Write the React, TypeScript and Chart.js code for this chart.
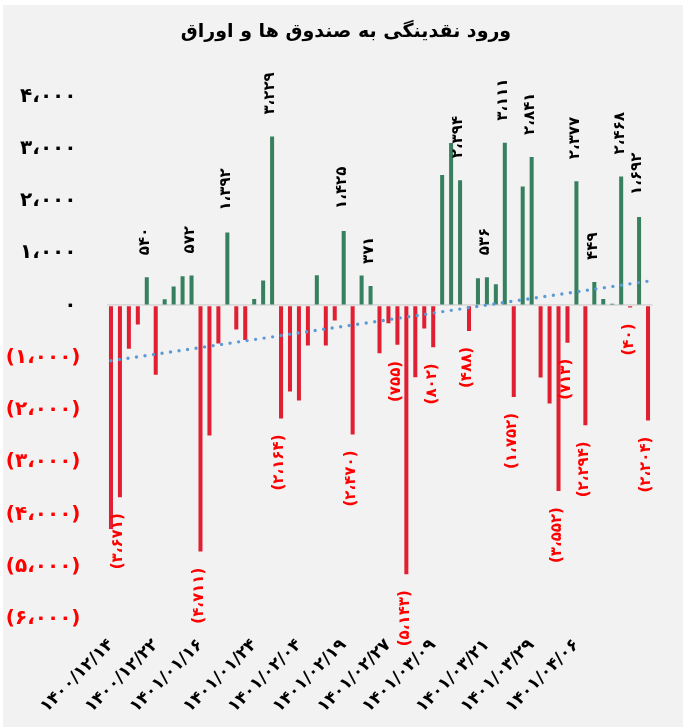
import React, { useEffect, useRef } from 'react';
import { Chart, registerables } from 'chart.js';

Chart.register(...registerables);

// ---- data ----
const chartTitle = 'ورود نقدینگی به صندوق ها و اوراق';

// daily net liquidity inflow (one bar per day)
const flows: number[] = [
  -4280, -3671, -832, -367, 540, -1329, 118, 360, 558, 572,
  -4711, -2489, -730, 1392, -462, -660, 124, 475, 3229, -2164,
  -1648, -1820, -768, 577, -768, -290, 1425, -2470, 570, 371,
  -914, -341, -755, -5143, -1373, -443, -802, 2495, 3107, 2394,
  -488, 520, 536, 405, 3111, -1752, 2272, 2841, -1380, -1877,
  -3552, -713, 2377, -2294, 449, 124, 29, 2468, -40, 1692, -2204,
];

// bars that carry a value label (0-based)
const labeledBars: number[] = [
  1, 4, 9, 10, 13, 18, 19, 26, 27, 29, 32, 33, 36, 39, 40, 42, 44, 45, 47,
  50, 51, 52, 53, 54, 57, 58, 59, 60,
];

// date labels on the horizontal axis and the bars they sit under
const dateTicks: string[] = [
  '۱۴۰۰/۱۲/۱۴', '۱۴۰۰/۱۲/۲۲', '۱۴۰۱/۰۱/۱۶', '۱۴۰۱/۰۱/۲۴', '۱۴۰۱/۰۲/۰۴',
  '۱۴۰۱/۰۲/۱۹', '۱۴۰۱/۰۲/۲۷', '۱۴۰۱/۰۳/۰۹', '۱۴۰۱/۰۳/۲۱', '۱۴۰۱/۰۳/۲۹',
  '۱۴۰۱/۰۴/۰۶',
];
const dateTickBars: number[] = [0, 5, 10, 16, 21, 26, 31, 36, 42, 47, 52];

// linear trend line end points
const trendStart = -1060;
const trendEnd = 463;

// vertical axis ticks
const yTickValues: number[] = [-6000, -5000, -4000, -3000, -2000, -1000, 0, 1000, 2000, 3000, 4000];
const yTickLabels: string[] = [
  '(۶،۰۰۰)', '(۵،۰۰۰)', '(۴،۰۰۰)', '(۳،۰۰۰)', '(۲،۰۰۰)', '(۱،۰۰۰)',
  '۰', '۱،۰۰۰', '۲،۰۰۰', '۳،۰۰۰', '۴،۰۰۰',
];

// ---- styles ----
const FONT = '"DejaVu Sans", "Noto Sans", sans-serif';
const GREEN = '#37805f';
const RED = '#e02032';
const LABEL_RED = '#ff0000';
const TREND = '#5b9bd5';
const BG = '#f2f2f2';

const faDigits = '۰۱۲۳۴۵۶۷۸۹';
function toFa(v: number): string {
  const s = Math.abs(Math.round(v))
    .toString()
    .replace(/\B(?=(\d{3})+(?!\d))/g, '،')
    .replace(/\d/g, (d) => faDigits[Number(d)]);
  return v < 0 ? `(${s})` : s;
}

const BAR_DATASET = 1;

const valueLabelPlugin = {
  id: 'valueLabels',
  afterDatasetsDraw(chart: any) {
    const meta = chart.getDatasetMeta(BAR_DATASET);
    const ctx = chart.ctx as CanvasRenderingContext2D;
    ctx.save();
    ctx.font = `bold 15px ${FONT}`;
    ctx.textBaseline = 'middle';
    labeledBars.forEach((i) => {
      const el = meta.data[i];
      if (!el) return;
      const v = flows[i];
      const pos = v >= 0;
      ctx.save();
      ctx.translate(el.x - 1.5, pos ? el.y - 22 : el.y + 16);
      ctx.rotate(-Math.PI / 2);
      ctx.textAlign = pos ? 'left' : 'right';
      ctx.fillStyle = pos ? '#000000' : LABEL_RED;
      ctx.fillText(toFa(v), 0, 0);
      ctx.restore();
    });
    ctx.restore();
  },
};

const titlePlugin = {
  id: 'centeredTitle',
  afterDraw(chart: any) {
    const ctx = chart.ctx as CanvasRenderingContext2D;
    ctx.save();
    ctx.font = `bold 19px ${FONT}`;
    ctx.fillStyle = '#000000';
    ctx.textAlign = 'center';
    ctx.textBaseline = 'middle';
    ctx.fillText(chartTitle, chart.width / 2 + 3, 27);
    ctx.restore();
  },
};

export default function App() {
  const canvasRef = useRef<HTMLCanvasElement | null>(null);

  useEffect(() => {
    if (!canvasRef.current) return;
    const xLabels = flows.map((_, i) => {
      const k = dateTickBars.indexOf(i);
      return k >= 0 ? dateTicks[k] : '';
    });
    const trend = flows.map((_, i) =>
      i === 0 ? trendStart : i === flows.length - 1 ? trendEnd : null
    );

    const chart = new Chart(canvasRef.current, {
      type: 'bar',
      data: {
        labels: xLabels,
        datasets: [
          {
            type: 'line',
            data: trend as any,
            borderColor: TREND,
            borderWidth: 3.4,
            borderDash: [0, 8.6],
            borderCapStyle: 'round',
            pointRadius: 0,
            spanGaps: true,
            fill: false,
            order: 0,
          } as any,
          {
            type: 'bar',
            data: flows,
            backgroundColor: flows.map((v) => (v >= 0 ? GREEN : RED)),
            barPercentage: 0.45,
            categoryPercentage: 1,
            order: 1,
          } as any,
        ],
      },
      options: {
        animation: false,
        responsive: true,
        maintainAspectRatio: false,
        layout: { padding: { left: 0, right: 30.5, top: 91.3, bottom: 0 } },
        plugins: {
          legend: { display: false },
          tooltip: { enabled: false },
          title: { display: false },
        },
        scales: {
          x: {
            grid: { display: false, drawTicks: false },
            border: { display: false },
            ticks: {
              autoSkip: false,
              minRotation: 45,
              maxRotation: 45,
              padding: 16,
              color: '#000000',
              font: { family: FONT, size: 17, weight: 'bold' },
            },
            afterFit: (scale: any) => {
              scale.height = 108;
            },
          },
          y: {
            min: -6000,
            max: 4000,
            border: { display: false },
            grid: {
              drawTicks: false,
              color: (c: any) => (c.tick && c.tick.value === 0 ? '#d9d9d9' : 'rgba(0,0,0,0)'),
              lineWidth: 1.8,
            },
            afterBuildTicks: (scale: any) => {
              scale.ticks = yTickValues.map((value) => ({ value }));
            },
            ticks: {
              padding: 26,
              color: (c: any) => (c.tick && c.tick.value < 0 ? LABEL_RED : '#000000'),
              font: { family: FONT, size: 20, weight: 'bold' },
              callback: (value: any) => {
                const k = yTickValues.indexOf(Number(value));
                if (k < 0) return '';
                return Number(value) >= 0 ? yTickLabels[k] + '\u2009' : yTickLabels[k];
              },
            },
            afterFit: (scale: any) => {
              scale.width = 103.5;
            },
          },
        },
      } as any,
      plugins: [valueLabelPlugin, titlePlugin],
    });
    return () => chart.destroy();
  }, []);

  return (
    <div
      style={{
        position: 'absolute',
        left: 3,
        top: 5,
        width: 680,
        height: 722,
        background: BG,
        overflow: 'hidden',
      }}
    >
      <canvas ref={canvasRef} />
    </div>
  );
}
